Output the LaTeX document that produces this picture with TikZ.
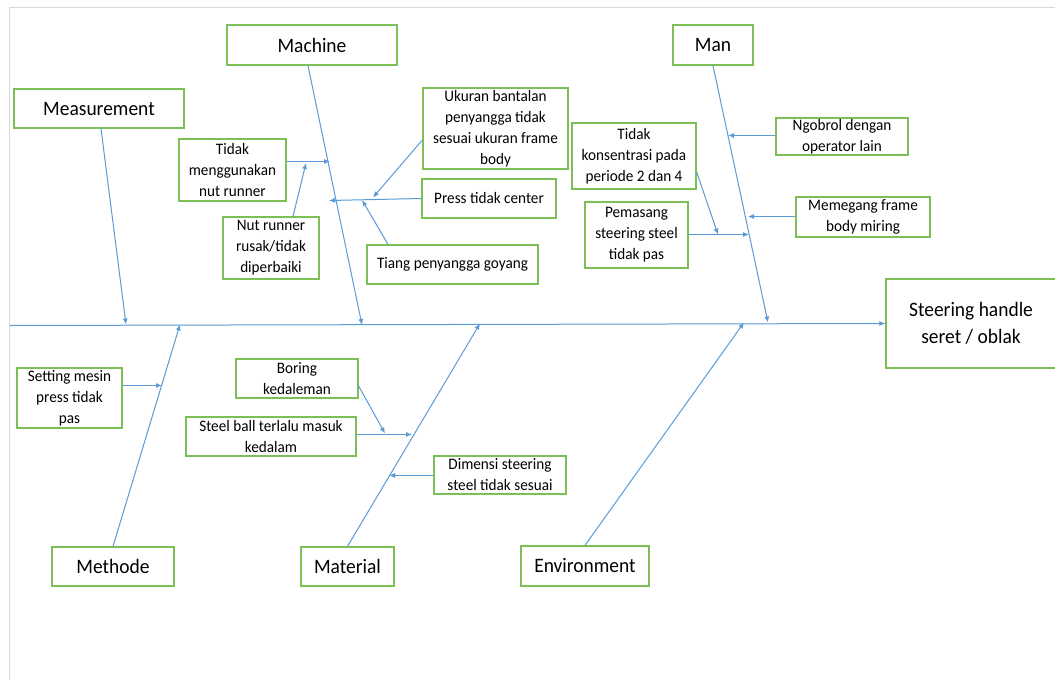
\documentclass[tikz,border=0pt]{standalone}
\usepackage{fontspec}
\setmainfont[FakeStretch=0.95]{Carlito}
\usetikzlibrary{arrows.meta,calc}
\definecolor{lineblue}{HTML}{5B9BD5}
\definecolor{boxgreen}{HTML}{7CBF55}
\definecolor{framegrey}{HTML}{D9D9D9}
\tikzset{
  box/.style={draw=boxgreen, line width=1.3pt, fill=white, align=center, inner sep=0pt},
  bigbox/.style={box, font=\fontsize{20.5}{27}\selectfont},
  smallbox/.style={box, font=\fontsize{16}{21}\selectfont},
  conn/.style={draw=lineblue, line width=1pt, -{Latex[length=6pt,width=5pt]}},
}
\begin{document}
\begin{tikzpicture}[x=1pt,y=-1pt]
\useasboundingbox (0,0) rectangle (1055,680);
\clip (0,0) rectangle (1055,680);
\fill[white] (0,0) rectangle (1055,680);
% frame
\draw[framegrey, line width=1.5pt] (9.5,681) -- (9.5,7.5) -- (1056,7.5);

% main category boxes
\node[bigbox, minimum width=170, minimum height=40] (machine) at (312,45) {Machine};
\node[bigbox, minimum width=170, minimum height=39] (measure) at (99,108.5) {Measurement};
\node[bigbox, minimum width=80, minimum height=40] (man) at (713,45) {Man};
\node[bigbox, minimum width=122, minimum height=39] (methode) at (113,566.5) {Methode};
\node[bigbox, minimum width=93, minimum height=39] (material) at (347.5,566.5) {Material};
\node[bigbox, minimum width=128, minimum height=40] (environment) at (585,566) {Environment};
\node[bigbox, minimum width=170, minimum height=89] (steering) at (971,323.5) {Steering handle\\seret / oblak};

% cause boxes
\node[smallbox, minimum width=145, minimum height=81] (ukuran) at (495.5,128.5) {Ukuran bantalan\\penyangga tidak\\sesuai ukuran frame\\body};
\node[smallbox, minimum width=124, minimum height=66] (konsen) at (634,156) {Tidak\\konsentrasi pada\\periode 2 dan 4};
\node[smallbox, minimum width=134, minimum height=39] (press) at (489,198.5) {Press tidak center};
\node[smallbox, minimum width=171, minimum height=39] (tiang) at (452.5,264.5) {Tiang penyangga goyang};
\node[smallbox, minimum width=103, minimum height=66] (pemasang) at (636.5,235) {Pemasang\\steering steel\\tidak pas};
\node[smallbox, minimum width=132, minimum height=37] (ngobrol) at (842,136.5) {Ngobrol dengan\\operator lain};
\node[smallbox, minimum width=134, minimum height=40] (memegang) at (863,217) {Memegang frame\\body miring};
\node[smallbox, minimum width=107, minimum height=62] (tidakmeng) at (232.5,170) {Tidak\\menggunakan\\nut runner};
\node[smallbox, minimum width=96, minimum height=62] (nutrunner) at (271,248) {Nut runner\\rusak/tidak\\diperbaiki};
\node[smallbox, minimum width=105, minimum height=60] (setting) at (69.5,398) {Setting mesin\\press tidak\\pas};
\node[smallbox, minimum width=122, minimum height=39] (boring) at (297,378.5) {Boring\\kedaleman};
\node[smallbox, minimum width=170, minimum height=39] (steelball) at (271,436.5) {Steel ball terlalu masuk\\kedalam};
\node[smallbox, minimum width=132, minimum height=38] (dimensi) at (500,475) {Dimensi steering\\steel tidak sesuai};

% spine
\coordinate (spineL) at (10,325.5);
\draw[conn] (spineL) -- (steering.west);

% points where bones meet the spine
\coordinate (measT) at (126,324.5);
\coordinate (machT) at (362,325);
\coordinate (manT) at (768,322.5);
\coordinate (methT) at (180,324.5);
\coordinate (matT) at (480,323.5);
\coordinate (envT) at (744,322.5);

\draw[conn] ([xshift=2pt]measure.south) -- (measT);
\draw[conn] ([xshift=-4pt]machine.south) -- (machT);
\draw[conn] (man.south) -- (manT);
\draw[conn] (methode.north) -- (methT);
\draw[conn] (material.north) -- (matT);
\draw[conn] (environment.north) -- (envT);

% points on bones / sub-bones
\coordinate (tm1) at (330,161.5);
\coordinate (n1) at (306,163);
\coordinate (p1) at (329,200.5);
\coordinate (u1) at (373,197.5);
\coordinate (t1) at (362,200);
\coordinate (g1) at (728,135.5);
\coordinate (mm1) at (748,216.5);
\coordinate (pm1) at (749,234.5);
\coordinate (k1) at (718,234.5);
\coordinate (s1) at (162,385.5);
\coordinate (sb1) at (412,434.5);
\coordinate (b1) at (385,433.5);
\coordinate (d1) at (389,475.5);

\draw[conn] ([yshift=8.5pt]tidakmeng.east) -- (tm1);
\draw[conn] ([xshift=22pt]nutrunner.north) -- (n1);
\draw[conn] (press.west) -- (p1);
\draw[conn] ([yshift=-11.5pt]ukuran.west) -- (u1);
\draw[conn] ([xshift=-64.5pt]tiang.north) -- (t1);
\draw[conn] ([yshift=1pt]ngobrol.west) -- (g1);
\draw[conn] ([yshift=0.5pt]memegang.west) -- (mm1);
\draw[conn] ([yshift=0.5pt]pemasang.east) -- (pm1);
\draw[conn] ([yshift=-16pt]konsen.east) -- (k1);
\draw[conn] ([yshift=12.5pt]setting.east) -- (s1);
\draw[conn] ([yshift=2pt]steelball.east) -- (sb1);
\draw[conn] ([yshift=-7.5pt]boring.east) -- (b1);
\draw[conn] ([yshift=-0.5pt]dimensi.west) -- (d1);
\end{tikzpicture}
\end{document}
